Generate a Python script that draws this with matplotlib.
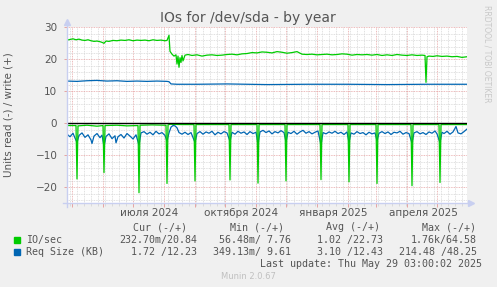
import datetime as dt

import matplotlib
matplotlib.use("Agg")
import matplotlib.pyplot as plt
import matplotlib.dates as mdates
from matplotlib.ticker import MultipleLocator, NullFormatter
from matplotlib.lines import Line2D

# time window: munin "by year" graph = 400 days, 1 day per pixel
START = dt.datetime(2024, 4, 26, 3, 0)
END = START + dt.timedelta(days=400)

# (day offset from START, value)
io_write = [
    (0, 26.0), (3, 26.2), (6, 26.4), (9, 26.1), (12, 26.3), (15, 26.0), (18, 25.9),
    (21, 26.1), (24, 25.8), (27, 25.6), (30, 25.7), (33, 25.5), (35, 25.3), (37, 25.0),
    (39, 25.7), (42, 25.6), (46, 25.9), (50, 25.8), (54, 26.0), (58, 25.9), (62, 26.1),
    (66, 25.8), (70, 26.0), (74, 25.9), (78, 26.0), (82, 25.8), (86, 26.1), (90, 25.9),
    (94, 26.0), (98, 25.8), (100, 25.9), (102, 27.5), (103, 22.5), (105, 21.6),
    (107, 21.0), (109, 21.4), (110, 18.5), (111, 21.0), (112, 17.5), (113, 20.5),
    (114, 19.0), (115, 21.2), (116, 19.5), (118, 21.3), (121, 21.5), (125, 21.2),
    (130, 21.4), (135, 21.0), (140, 21.3), (145, 21.4), (150, 21.2), (155, 21.3),
    (160, 21.5), (165, 21.6), (170, 21.4), (175, 21.7), (180, 21.8), (185, 22.1),
    (190, 22.0), (195, 22.3), (200, 22.2), (205, 22.0), (210, 22.4), (215, 22.2),
    (220, 21.9), (225, 22.1), (230, 22.4), (235, 21.6), (240, 21.5), (245, 21.6),
    (250, 21.4), (255, 21.5), (260, 21.6), (265, 21.4), (270, 21.5), (275, 21.7),
    (280, 21.6), (285, 21.3), (290, 21.5), (295, 21.4), (300, 21.5), (305, 21.3),
    (310, 21.5), (315, 21.2), (320, 21.4), (325, 21.2), (330, 21.5), (335, 21.3),
    (340, 21.2), (345, 21.4), (350, 21.2), (355, 21.3), (358, 21.2), (359, 12.8),
    (360, 20.8), (362, 21.0), (366, 20.9), (370, 21.1), (375, 20.9), (380, 21.0),
    (385, 20.8), (390, 20.9), (395, 20.6), (400, 20.8),
]

io_read = [
    (0, -0.7), (9, -0.7), (10, -17.4), (11, -0.8), (20, -0.6), (30, -0.9), (36, -0.7),
    (37, -15.4), (38, -0.7), (50, -0.6), (60, -0.8), (71, -0.7), (72, -21.7), (73, -0.6),
    (85, -0.5), (99, -0.6), (100, -18.8), (101, -0.5), (103, -0.3), (115, -0.4),
    (127, -0.4), (128, -18.0), (129, -0.4), (145, -0.4), (162, -0.4), (163, -17.7),
    (164, -0.4), (180, -0.4), (190, -0.4), (191, -18.7), (192, -0.4), (205, -0.4),
    (218, -0.4), (219, -18.0), (220, -0.4), (235, -0.4), (253, -0.4), (254, -17.6),
    (255, -0.4), (270, -0.4), (281, -0.4), (282, -18.3), (283, -0.4), (295, -0.4),
    (309, -0.4), (310, -18.8), (311, -0.4), (328, -0.4), (344, -0.4), (345, -19.5),
    (346, -0.4), (360, -0.4), (372, -0.4), (373, -18.5), (374, -0.4), (400, -0.4),
]

req_write = [
    (0, 13.2), (10, 13.1), (20, 13.3), (30, 13.4), (40, 13.2), (50, 13.3), (60, 13.1),
    (70, 13.2), (80, 13.1), (90, 13.2), (100, 13.1), (102, 13.0), (104, 12.3),
    (110, 12.2), (130, 12.2), (160, 12.3), (200, 12.1), (240, 12.2), (280, 12.2),
    (320, 12.1), (360, 12.2), (400, 12.2),
]

req_read = [
    (0, -3.4), (3, -4.2), (6, -3.1), (8, -4.6), (10, -6.0), (12, -3.8), (15, -3.0),
    (18, -4.4), (21, -3.6), (24, -5.2), (25, -6.3), (27, -4.0), (30, -3.2), (33, -4.5),
    (35, -3.7), (37, -7.2), (39, -4.1), (42, -3.3), (45, -4.8), (48, -3.9), (49, -6.1),
    (51, -4.2), (54, -3.5), (57, -4.6), (60, -3.2), (63, -4.0), (66, -4.9), (69, -3.6),
    (72, -6.8), (74, -3.0), (77, -2.6), (80, -3.4), (83, -2.8), (86, -3.6), (89, -2.5),
    (92, -3.3), (95, -2.9), (98, -3.8), (100, -5.6), (102, -3.0), (104, -1.2),
    (106, -0.7), (108, -0.8), (110, -1.4), (112, -2.9), (115, -3.4), (118, -2.8),
    (121, -3.5), (124, -2.9), (128, -6.0), (130, -3.2), (133, -2.6), (136, -3.4),
    (139, -2.7), (142, -3.1), (145, -2.5), (148, -3.6), (151, -2.8), (154, -3.3),
    (157, -2.6), (160, -3.0), (163, -5.6), (165, -2.8), (168, -3.4), (171, -2.5),
    (174, -3.1), (177, -2.7), (180, -3.5), (183, -2.6), (186, -3.2), (189, -2.8),
    (191, -6.5), (193, -2.7), (196, -2.2), (199, -2.9), (202, -2.4), (205, -3.3),
    (208, -2.6), (211, -3.0), (214, -2.3), (217, -2.9), (219, -5.8), (221, -2.8),
    (224, -3.2), (227, -2.5), (230, -3.4), (233, -2.7), (236, -2.2), (239, -3.1),
    (242, -2.6), (245, -3.3), (248, -2.8), (251, -2.4), (254, -6.8), (256, -2.9),
    (259, -3.3), (262, -2.7), (265, -3.1), (268, -2.5), (271, -3.2), (274, -2.8),
    (277, -3.5), (280, -2.7), (282, -6.0), (284, -3.0), (287, -3.4), (290, -2.6),
    (293, -3.2), (296, -2.9), (299, -3.6), (302, -2.8), (305, -3.3), (308, -3.0),
    (310, -5.5), (312, -3.1), (315, -2.6), (318, -3.2), (321, -2.7), (324, -3.5),
    (327, -2.8), (330, -3.0), (333, -2.5), (336, -3.4), (339, -2.9), (342, -3.2),
    (345, -6.2), (347, -3.0), (350, -2.6), (353, -3.3), (356, -2.9), (359, -3.5),
    (362, -2.7), (365, -3.1), (368, -2.4), (370, -3.3), (373, -6.1), (375, -2.8),
    (377, -3.2), (380, -2.5), (383, -3.4), (386, -2.7), (389, -1.0), (391, -3.0),
    (394, -3.3), (397, -2.6), (400, -1.8),
]

month_labels = ["июля 2024", "октября 2024", "января 2025", "апреля 2025"]
label_months = [dt.datetime(2024, 7, 1), dt.datetime(2024, 10, 1),
                dt.datetime(2025, 1, 1), dt.datetime(2025, 4, 1)]

legend_header = ["Cur (-/+)", "Min (-/+)", "Avg (-/+)", "Max (-/+)"]
legend_rows = [
    ("IO/sec", "#00CC00", ["232.70m/20.84", "56.48m/ 7.76", "1.02 /22.73", "1.76k/64.58"]),
    ("Req Size (KB)", "#0066B3", ["1.72 /12.23", "349.13m/ 9.61", "3.10 /12.43", "214.48 /48.25"]),
]
last_update = "Last update: Thu May 29 03:00:02 2025"

GREEN = "#00CC00"
BLUE = "#0066B3"
FONT = "#555555"
AXIS = "#C8CFF0"
MGRID = "#E6A3A3"
SGRID = "#D6D6D6"
W, H = 497, 287


def series(pairs):
    xs = [START + dt.timedelta(days=d) for d, _ in pairs]
    ys = [v for _, v in pairs]
    return xs, ys


def fx(px):
    return px / W


def fy(py):
    return 1 - py / H


fig = plt.figure(figsize=(W / 100, H / 100), dpi=100, facecolor="#F0F0F0")
ax = fig.add_axes([fx(67), fy(203.3), 400 / W, 176 / H])
ax.set_facecolor("white")

ax.set_xlim(START, END)
ax.set_ylim(-25, 30)

# grid: red dotted major (months / 10 units), grey dotted minor (weeks / 2 units)
ax.xaxis.set_major_locator(mdates.MonthLocator())
ax.xaxis.set_minor_locator(mdates.WeekdayLocator(byweekday=mdates.MO))
ax.xaxis.set_major_formatter(NullFormatter())
ax.yaxis.set_major_locator(MultipleLocator(10))
ax.yaxis.set_minor_locator(MultipleLocator(2))
ax.grid(which="minor", color=SGRID, linestyle=(0, (1, 1)), linewidth=0.6)
ax.grid(which="major", color=MGRID, linestyle=(0, (1, 1)), linewidth=0.6)
ax.set_axisbelow(True)

ax.tick_params(axis="x", which="major", length=3, color=MGRID, width=0.7)
ax.tick_params(axis="x", which="minor", length=2, color=SGRID, width=0.6)
ax.tick_params(axis="y", which="major", length=2, color=MGRID, width=0.7,
               labelsize=7.5, labelcolor=FONT, pad=5)
ax.tick_params(axis="y", which="minor", length=0)
for s in ax.spines.values():
    s.set_visible(False)

# data lines
for pairs, color in ((req_read, BLUE), (io_read, GREEN), (req_write, BLUE), (io_write, GREEN)):
    xs, ys = series(pairs)
    ax.plot(xs, ys, color=color, linewidth=0.9)
ax.axhline(0, color="black", linewidth=1.0)

# axis lines with arrows
fig.add_artist(Line2D([fx(63), fx(468)], [fy(203.3), fy(203.3)], color=AXIS, lw=1))
fig.add_artist(Line2D([fx(67), fx(67)], [fy(207), fy(24)], color=AXIS, lw=1))
fig.add_artist(Line2D([fx(471)], [fy(203.3)], marker=">", markersize=4, color=AXIS, lw=0))
fig.add_artist(Line2D([fx(67)], [fy(22)], marker="^", markersize=4, color=AXIS, lw=0))

# month labels, centred half a month after the tick
for lab, m in zip(month_labels, label_months):
    ax.text(m + dt.timedelta(days=16.5), -0.055, lab, transform=ax.get_xaxis_transform(),
            ha="center", va="center", fontsize=7.5, color=FONT)

fig.text(fx(9), fy(115), "Units read (-) / write (+)", rotation=90, ha="center",
         va="center", fontsize=7.5, color=FONT)

fig.text(fx(248), fy(18), "IOs for /dev/sda - by year", ha="center", va="center",
         fontsize=10, color=FONT)
fig.text(fx(487), fy(54), "RRDTOOL / TOBI OETIKER", rotation=270, ha="center",
         va="center", fontsize=5.5, color="#C8C8C8")

# legend block (monospace, like rrdtool)
mono = dict(family="DejaVu Sans Mono", fontsize=7.2, color=FONT, va="center")
col_hdr = [187, 284, 380, 476]
col_val = [197, 291, 383, 477]
for txt, x in zip(legend_header, col_hdr):
    fig.text(fx(x), fy(227.5), txt, ha="right", **mono)
for i, (name, color, vals) in enumerate(legend_rows):
    y = 240 + 12 * i
    fig.add_artist(plt.Rectangle((fx(14), fy(y + 3)), 6 / W, 6 / H, color=color,
                                 transform=fig.transFigure))
    fig.text(fx(26), fy(y), name, ha="left", **mono)
    for txt, x in zip(vals, col_val):
        fig.text(fx(x), fy(y), txt, ha="right", **mono)
fig.text(fx(482), fy(264), last_update, ha="right", **mono)
fig.text(fx(248), fy(276.5), "Munin 2.0.67", ha="center", va="center",
         fontsize=6, color="#C0C0C0")

fig.savefig("out.png", dpi=100, facecolor=fig.get_facecolor())
